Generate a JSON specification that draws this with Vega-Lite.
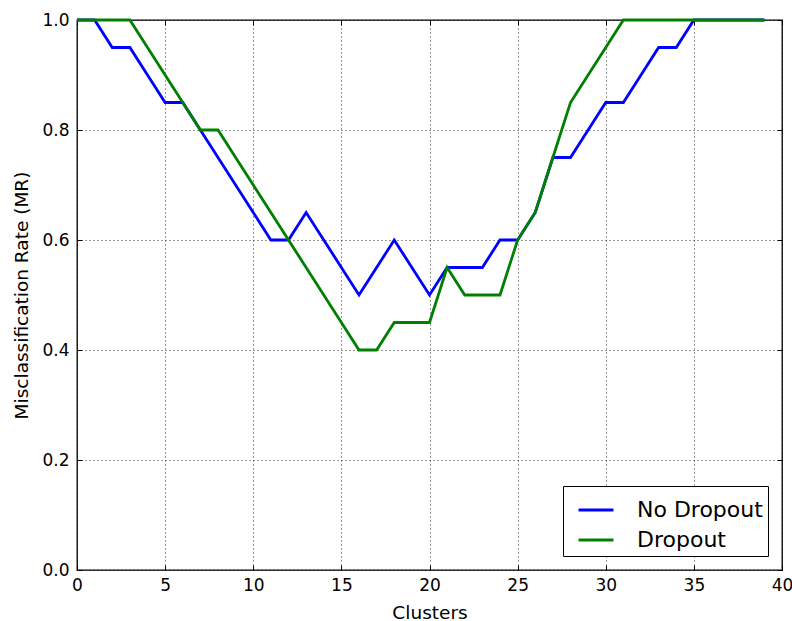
{
  "$schema": "https://vega.github.io/schema/vega-lite/v6.json",
  "width": 705,
  "height": 550,
  "autosize": "none",
  "padding": {"left": 77, "top": 20, "right": 10, "bottom": 51},
  "background": "white",
  "config": {
    "font": "DejaVu Sans",
    "view": {"stroke": "black", "strokeWidth": 1.3},
    "axis": {
      "domain": false,
      "tickColor": "black",
      "tickSize": -5,
      "tickWidth": 1,
      "labelFlush": false,
      "labelColor": "black",
      "labelFont": "DejaVu Sans",
      "labelFontSize": 17,
      "titleFont": "DejaVu Sans",
      "titleFontSize": 18.5,
      "titleFontWeight": "normal",
      "titleColor": "black"
    }
  },
  "data": {
    "values": [
      {"c": 0, "mr": 1.0, "s": "No Dropout"},
      {"c": 1, "mr": 1.0, "s": "No Dropout"},
      {"c": 2, "mr": 0.95, "s": "No Dropout"},
      {"c": 3, "mr": 0.95, "s": "No Dropout"},
      {"c": 4, "mr": 0.9, "s": "No Dropout"},
      {"c": 5, "mr": 0.85, "s": "No Dropout"},
      {"c": 6, "mr": 0.85, "s": "No Dropout"},
      {"c": 7, "mr": 0.8, "s": "No Dropout"},
      {"c": 8, "mr": 0.75, "s": "No Dropout"},
      {"c": 9, "mr": 0.7, "s": "No Dropout"},
      {"c": 10, "mr": 0.65, "s": "No Dropout"},
      {"c": 11, "mr": 0.6, "s": "No Dropout"},
      {"c": 12, "mr": 0.6, "s": "No Dropout"},
      {"c": 13, "mr": 0.65, "s": "No Dropout"},
      {"c": 14, "mr": 0.6, "s": "No Dropout"},
      {"c": 15, "mr": 0.55, "s": "No Dropout"},
      {"c": 16, "mr": 0.5, "s": "No Dropout"},
      {"c": 17, "mr": 0.55, "s": "No Dropout"},
      {"c": 18, "mr": 0.6, "s": "No Dropout"},
      {"c": 19, "mr": 0.55, "s": "No Dropout"},
      {"c": 20, "mr": 0.5, "s": "No Dropout"},
      {"c": 21, "mr": 0.55, "s": "No Dropout"},
      {"c": 22, "mr": 0.55, "s": "No Dropout"},
      {"c": 23, "mr": 0.55, "s": "No Dropout"},
      {"c": 24, "mr": 0.6, "s": "No Dropout"},
      {"c": 25, "mr": 0.6, "s": "No Dropout"},
      {"c": 26, "mr": 0.65, "s": "No Dropout"},
      {"c": 27, "mr": 0.75, "s": "No Dropout"},
      {"c": 28, "mr": 0.75, "s": "No Dropout"},
      {"c": 29, "mr": 0.8, "s": "No Dropout"},
      {"c": 30, "mr": 0.85, "s": "No Dropout"},
      {"c": 31, "mr": 0.85, "s": "No Dropout"},
      {"c": 32, "mr": 0.9, "s": "No Dropout"},
      {"c": 33, "mr": 0.95, "s": "No Dropout"},
      {"c": 34, "mr": 0.95, "s": "No Dropout"},
      {"c": 35, "mr": 1.0, "s": "No Dropout"},
      {"c": 36, "mr": 1.0, "s": "No Dropout"},
      {"c": 37, "mr": 1.0, "s": "No Dropout"},
      {"c": 38, "mr": 1.0, "s": "No Dropout"},
      {"c": 39, "mr": 1.0, "s": "No Dropout"},
      {"c": 0, "mr": 1.0, "s": "Dropout"},
      {"c": 1, "mr": 1.0, "s": "Dropout"},
      {"c": 2, "mr": 1.0, "s": "Dropout"},
      {"c": 3, "mr": 1.0, "s": "Dropout"},
      {"c": 4, "mr": 0.95, "s": "Dropout"},
      {"c": 5, "mr": 0.9, "s": "Dropout"},
      {"c": 6, "mr": 0.85, "s": "Dropout"},
      {"c": 7, "mr": 0.8, "s": "Dropout"},
      {"c": 8, "mr": 0.8, "s": "Dropout"},
      {"c": 9, "mr": 0.75, "s": "Dropout"},
      {"c": 10, "mr": 0.7, "s": "Dropout"},
      {"c": 11, "mr": 0.65, "s": "Dropout"},
      {"c": 12, "mr": 0.6, "s": "Dropout"},
      {"c": 13, "mr": 0.55, "s": "Dropout"},
      {"c": 14, "mr": 0.5, "s": "Dropout"},
      {"c": 15, "mr": 0.45, "s": "Dropout"},
      {"c": 16, "mr": 0.4, "s": "Dropout"},
      {"c": 17, "mr": 0.4, "s": "Dropout"},
      {"c": 18, "mr": 0.45, "s": "Dropout"},
      {"c": 19, "mr": 0.45, "s": "Dropout"},
      {"c": 20, "mr": 0.45, "s": "Dropout"},
      {"c": 21, "mr": 0.55, "s": "Dropout"},
      {"c": 22, "mr": 0.5, "s": "Dropout"},
      {"c": 23, "mr": 0.5, "s": "Dropout"},
      {"c": 24, "mr": 0.5, "s": "Dropout"},
      {"c": 25, "mr": 0.6, "s": "Dropout"},
      {"c": 26, "mr": 0.65, "s": "Dropout"},
      {"c": 27, "mr": 0.75, "s": "Dropout"},
      {"c": 28, "mr": 0.85, "s": "Dropout"},
      {"c": 29, "mr": 0.9, "s": "Dropout"},
      {"c": 30, "mr": 0.95, "s": "Dropout"},
      {"c": 31, "mr": 1.0, "s": "Dropout"},
      {"c": 32, "mr": 1.0, "s": "Dropout"},
      {"c": 33, "mr": 1.0, "s": "Dropout"},
      {"c": 34, "mr": 1.0, "s": "Dropout"},
      {"c": 35, "mr": 1.0, "s": "Dropout"},
      {"c": 36, "mr": 1.0, "s": "Dropout"},
      {"c": 37, "mr": 1.0, "s": "Dropout"},
      {"c": 38, "mr": 1.0, "s": "Dropout"},
      {"c": 39, "mr": 1.0, "s": "Dropout"}
    ]
  },
  "layer": [
    {
      "mark": {"type": "line", "opacity": 0},
      "encoding": {
        "x": {
          "field": "c",
          "type": "quantitative",
          "scale": {"domain": [0, 40], "nice": false, "zero": false},
          "axis": {"orient": "top", "values": [0, 5, 10, 15, 20, 25, 30, 35, 40], "labels": false, "title": null, "grid": false}
        },
        "y": {
          "field": "mr",
          "type": "quantitative",
          "scale": {"domain": [0, 1], "nice": false},
          "axis": {"orient": "right", "values": [0, 0.2, 0.4, 0.6, 0.8, 1.0], "labels": false, "title": null, "grid": false}
        },
        "detail": {"field": "s"}
      }
    },
    {
      "mark": {"type": "line", "strokeWidth": 2.8, "clip": false},
      "encoding": {
        "x": {
          "field": "c",
          "type": "quantitative",
          "scale": {"domain": [0, 40], "nice": false, "zero": false},
          "axis": {
            "orient": "bottom",
            "values": [0, 5, 10, 15, 20, 25, 30, 35, 40],
            "title": "Clusters",
            "labelPadding": 12,
            "titlePadding": 10,
            "grid": true,
            "gridColor": "black",
            "gridDash": [1, 3],
            "gridOpacity": 0.8,
            "gridWidth": 1
          }
        },
        "y": {
          "field": "mr",
          "type": "quantitative",
          "scale": {"domain": [0, 1], "nice": false},
          "axis": {
            "orient": "left",
            "values": [0, 0.2, 0.4, 0.6, 0.8, 1.0],
            "format": ".1f",
            "title": "Misclassification Rate (MR)",
            "labelPadding": 13,
            "titlePadding": 10,
            "grid": true,
            "gridColor": "black",
            "gridDash": [1, 3],
            "gridOpacity": 0.8,
            "gridWidth": 1
          }
        },
        "color": {
          "field": "s",
          "type": "nominal",
          "sort": ["No Dropout", "Dropout"],
          "scale": {"domain": ["No Dropout", "Dropout"], "range": ["#0000ff", "#008000"]},
          "legend": {
            "title": null,
            "orient": "none",
            "legendX": 486,
            "legendY": 466,
            "symbolType": "stroke",
            "symbolSize": 1225,
            "symbolStrokeWidth": 3,
            "labelFontSize": 22,
            "labelFont": "DejaVu Sans",
            "labelColor": "black",
            "labelOffset": 22,
            "rowPadding": -3,
            "padding": 5,
            "strokeColor": "black",
            "fillColor": "white",
            "symbolOffset": 9
          }
        }
      }
    }
  ],
  "resolve": {"axis": {"x": "independent", "y": "independent"}}
}
